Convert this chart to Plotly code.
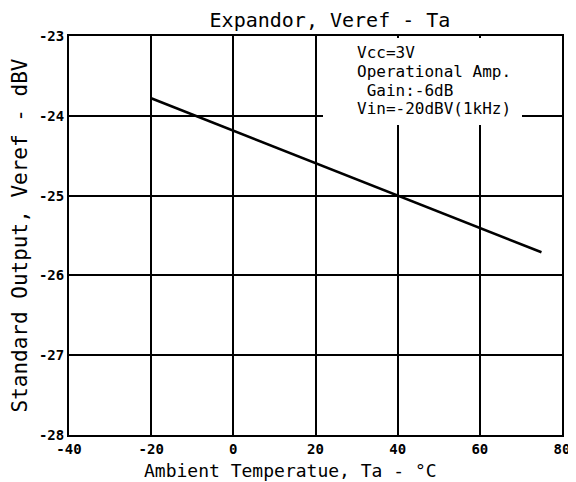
import plotly.graph_objects as go

temps = [-20, 40, 75]
veref = [-23.78, -25.0, -25.71]

x_ticks = [-40, -20, 0, 20, 40, 60, 80]
y_ticks = [-28, -27, -26, -25, -24, -23]

cond_lines = ["Vcc=3V", "Operational Amp.", " Gain:-6dB", "Vin=-20dBV(1kHz)"]

# page body has an 8px default margin: size the figure to fill the rest
OFF = 8
W, H = 576 - OFF, 482 - OFF
# plot area in window pixels
PX0, PX1, PY0, PY1 = 69, 562, 36, 435
L, R, T, B = PX0 - OFF, W - (PX1 - OFF), PY0 - OFF, H - (PY1 - OFF)
PW, PH = PX1 - PX0, PY1 - PY0

fig = go.Figure()
fig.add_trace(go.Scatter(x=temps, y=veref, mode="lines",
                         line=dict(color="black", width=2.5), showlegend=False))

font_fam = "DejaVu Sans Mono, monospace"
fig.update_layout(
    width=W, height=H,
    margin=dict(l=L, r=R, t=T, b=B, autoexpand=False),
    paper_bgcolor="white", plot_bgcolor="white",
    title=dict(text="Expandor, Veref - Ta", x=(330 - OFF) / W, xref="container",
               xanchor="center", y=1 - (20 - OFF) / H, yref="container", yanchor="middle",
               font=dict(family=font_fam, size=20, color="black")),
    font=dict(family=font_fam, color="black"),
)
fig.update_xaxes(range=[-40, 80], tickvals=x_ticks, ticktext=[str(v) for v in x_ticks],
                 showgrid=True, gridcolor="black", gridwidth=1.5,
                 showline=True, linecolor="black", linewidth=2, mirror=True,
                 zeroline=False, ticks="", ticklen=0, automargin=False,
                 tickfont=dict(family=font_fam, size=14, color="black", weight="bold"))
fig.update_yaxes(range=[-28, -23], tickvals=y_ticks, ticktext=[str(v) for v in y_ticks],
                 showgrid=True, gridcolor="black", gridwidth=1.5,
                 showline=True, linecolor="black", linewidth=2, mirror=True,
                 zeroline=False, ticks="", ticklen=0, automargin=False,
                 tickfont=dict(family=font_fam, size=14, color="black", weight="bold"),
                 title=dict(text="Standard Output, Veref - dBV", standoff=10,
                            font=dict(family=font_fam, size=21, color="black")))

# x-axis title (offset left of the plot centre, as in the original)
fig.add_annotation(text="Ambient Temperatue, Ta - °C", xref="paper", yref="paper",
                   x=(290 - PX0) / PW, y=1 - (470 - PY0) / PH,
                   xanchor="center", yanchor="middle", showarrow=False,
                   font=dict(family=font_fam, size=18, color="black"))

# white label area covering the grid (window pixels)
bx0, bx1, by0, by1 = 323, 522, 38, 125
fig.add_annotation(text=" ", xref="paper", yref="paper",
                   x=(bx0 - PX0) / PW, y=1 - (by0 - PY0) / PH,
                   xanchor="left", yanchor="top", showarrow=False,
                   width=bx1 - bx0, height=by1 - by0, bgcolor="white",
                   borderpad=0, borderwidth=0)

ys = [53, 71, 90, 109]
for txt, yp in zip(cond_lines, ys):
    fig.add_annotation(text=txt.replace(" ", "&nbsp;"), xref="paper", yref="paper",
                       x=(355 - PX0) / PW, y=1 - (yp - PY0) / PH,
                       xanchor="left", yanchor="middle", showarrow=False,
                       font=dict(family=font_fam, size=16, color="black"))

fig.write_html("out.html")
